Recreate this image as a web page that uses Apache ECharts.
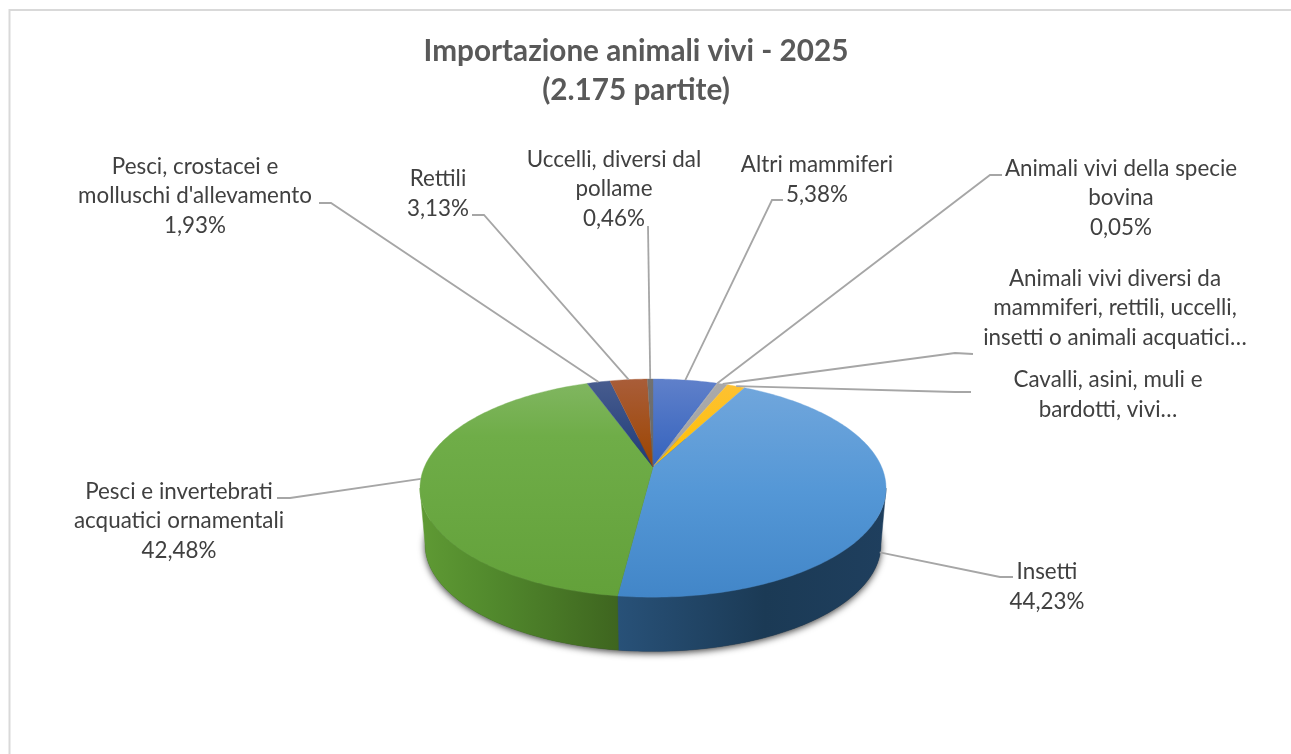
<!DOCTYPE html>
<html lang="it">
<head>
<meta charset="utf-8">
<title>Importazione animali vivi - 2025</title>
<style>
  html, body { margin: 0; padding: 0; background: #fff; }
  #chart { width: 1291px; height: 754px; }
</style>
<script src="https://cdn.jsdelivr.net/npm/echarts@6/dist/echarts.min.js"></script>
</head>
<body>
<div id="chart"></div>
<script>
// Share of consignments per category, clockwise from twelve o'clock.
const categories = [
  'Altri mammiferi',
  'Animali vivi della specie bovina',
  'Animali vivi diversi da mammiferi, rettili, uccelli, insetti o animali acquatici',
  'Cavalli, asini, muli e bardotti, vivi',
  'Insetti',
  'Pesci e invertebrati acquatici ornamentali',
  "Pesci, crostacei e molluschi d'allevamento",
  'Rettili',
  'Uccelli, diversi dal pollame'
];
const shares = [5.38, 0.05, 0.85, 1.49, 44.23, 42.48, 1.93, 3.13, 0.46];

// Wrapped label text; the two cut-off labels carry no percentage.
const labelLines = [
  ['Altri mammiferi'],
  ['Animali vivi della specie', 'bovina'],
  ['Animali vivi diversi da', 'mammiferi, rettili, uccelli,', 'insetti o animali acquatici…'],
  ['Cavalli, asini, muli e', 'bardotti, vivi…'],
  ['Insetti'],
  ['Pesci e invertebrati', 'acquatici ornamentali'],
  ['Pesci, crostacei e', "molluschi d'allevamento"],
  ['Rettili'],
  ['Uccelli, diversi dal', 'pollame']
];
const showsPercent = [true, true, false, false, true, true, true, true, true];

// Label block centres and the leader's elbow/end next to each label.
const labelCentres = [
  [817, 180], [1121, 198], [1115, 308], [1108, 395], [1047, 587],
  [179, 521], [195, 196], [438, 194], [614, 189]
];
const leaderEnds = [
  [[772, 200], [783, 200]],
  [[990, 175], [1002, 175]],
  [[955, 353], [973, 354]],
  [[955, 392], [971, 392]],
  [[1000, 577], [1013, 577]],
  [[290, 498], [277, 498]],
  [[331, 203], [319, 203]],
  [[484, 215], [472, 215]],
  [[648, 226], [648, 226]]
];
// How far down the side wall a leader attaches (0 = top rim).
const leaderDepth = [0, 0, 0, 0, 0.92, 0, 0, 0, 0];

// Colour ramps: top face runs top-to-bottom, wall runs left-to-right.
const faceStops = [
  [[0, '#5f80ca'], [1, '#3462bd']],
  [[0, '#a8a8a8'], [1, '#a8a8a8']],
  [[0, '#a9a9a9'], [1, '#a5a5a5']],
  [[0, '#fdc136'], [1, '#ffc000']],
  [[0, '#70a6dc'], [0.5, '#5497d6'], [1, '#4286c8']],
  [[0, '#80b660'], [0.25, '#6fad48'], [1, '#63a13a']],
  [[0, '#485d8f'], [1, '#1f3b78']],
  [[0, '#a95d39'], [1, '#9c4500']],
  [[0, '#717171'], [1, '#666666']]
];
const wallStops = {
  4: [[0, '#285178'], [0.55, '#1b3a55'], [1, '#1f3f5e']],
  5: [[0, '#5f9a34'], [0.35, '#528a2d'], [1, '#3e651f']]
};

// Perspective disc: centre and radius on screen, plus foreshortening.
const discX = 653, discY = 467;
const radiusX = 228.6, radiusY = 105, tilt = 0.1935;
const wallDrop = 57, wallScale = 0.978;

function project(turn, level) {
  const a = turn * 2 * Math.PI;
  const sx = Math.sin(a), cy = Math.cos(a);
  const s = 1 / (1 + tilt * cy);
  const k = 1 + (wallScale - 1) * level;
  return [discX + k * radiusX * sx * s, discY + wallDrop * level - k * radiusY * cy * s];
}

const total = shares.reduce((a, b) => a + b, 0);
const bounds = shares.reduce((acc, v) => { acc.push(acc[acc.length - 1] + v / total); return acc; }, [0]);

function arc(from, to, level) {
  const n = Math.max(2, Math.ceil((to - from) * 360));
  const pts = [];
  for (let i = 0; i <= n; i++) pts.push(project(from + (to - from) * i / n, level));
  return pts;
}

const ramp = (stops) => stops.map(([offset, color]) => ({ offset, color }));

// Turns where the rim is at its widest: the wall is visible between them.
const wallFrom = Math.acos(-tilt) / (2 * Math.PI);
const wallTo = 1 - wallFrom;

const rows = shares.map((v) => [v]);

const baseShadow = {
  type: 'custom', coordinateSystem: 'none', silent: true, z: 1,
  data: [[0]],
  renderItem: () => ({
    type: 'polygon',
    shape: { points: arc(0, 1, 1) },
    style: { fill: '#3a3a3a', shadowBlur: 7, shadowColor: 'rgba(0,0,0,0.75)', shadowOffsetY: 2 }
  })
};

const walls = {
  type: 'custom', coordinateSystem: 'none', silent: true, z: 2,
  data: rows,
  renderItem(params) {
    const i = params.dataIndex;
    const from = Math.max(bounds[i], wallFrom), to = Math.min(bounds[i + 1], wallTo);
    if (to <= from || !wallStops[i]) return null;
    const rimTop = arc(from, to, 0), rimLow = arc(from, to, 1);
    const xs = rimTop.concat(rimLow).map((p) => p[0]);
    const fill = new echarts.graphic.LinearGradient(
      Math.min(...xs), 0, Math.max(...xs), 0, ramp(wallStops[i]), true);
    return {
      type: 'polygon',
      shape: { points: rimTop.concat(rimLow.reverse()) },
      style: { fill, stroke: fill, lineWidth: 0.5 }
    };
  }
};

const faces = {
  type: 'custom', coordinateSystem: 'none', silent: true, z: 3,
  data: rows,
  renderItem(params) {
    const i = params.dataIndex;
    const pts = arc(bounds[i], bounds[i + 1], 0);
    const ys = pts.map((p) => p[1]).concat(discY);
    const span = i === 4 || i === 5 ? [Math.min(...ys), Math.max(...ys)] : [project(0, 0)[1], discY];
    const fill = new echarts.graphic.LinearGradient(0, span[0], 0, span[1], ramp(faceStops[i]), true);
    return {
      type: 'polygon',
      shape: { points: [[discX, discY]].concat(pts) },
      style: { fill, stroke: fill, lineWidth: 0.4 }
    };
  }
};

const leaders = {
  type: 'custom', coordinateSystem: 'none', silent: true, z: 4,
  data: rows,
  renderItem(params) {
    const i = params.dataIndex;
    const anchor = project((bounds[i] + bounds[i + 1]) / 2, leaderDepth[i]);
    return {
      type: 'polyline',
      shape: { points: [anchor].concat(leaderEnds[i]) },
      style: { fill: 'none', stroke: '#a6a6a6', lineWidth: 1.8 }
    };
  }
};

const labels = {
  type: 'custom', coordinateSystem: 'none', silent: true, z: 5,
  data: rows,
  renderItem(params, api) {
    const i = params.dataIndex;
    const lines = labelLines[i].slice();
    if (showsPercent[i]) lines.push(api.value(0).toFixed(2).replace('.', ',') + '%');
    return {
      type: 'text',
      x: labelCentres[i][0],
      y: labelCentres[i][1],
      style: {
        text: lines.join('\n'),
        fill: '#404040',
        font: '22.4px Lato',
        lineHeight: 29.7,
        align: 'center',
        verticalAlign: 'middle'
      }
    };
  }
};

const chart = echarts.init(document.getElementById('chart'), null, { renderer: 'canvas' });
chart.setOption({
  animation: false,
  backgroundColor: '#ffffff',
  title: {
    text: 'Importazione animali vivi - 2025\n(2.175 partite)',
    left: 631,
    top: 27,
    textAlign: 'center',
    textStyle: { color: '#595959', fontFamily: 'Lato', fontWeight: 'bold', fontSize: 29.7, lineHeight: 39 }
  },
  graphic: [{
    type: 'rect', silent: true, z: 0,
    shape: { x: 9.5, y: 10, width: 1300, height: 800 },
    style: { fill: 'none', stroke: '#d9d9d9', lineWidth: 2 }
  }],
  series: [baseShadow, walls, faces, leaders, labels]
});
</script>
</body>
</html>
